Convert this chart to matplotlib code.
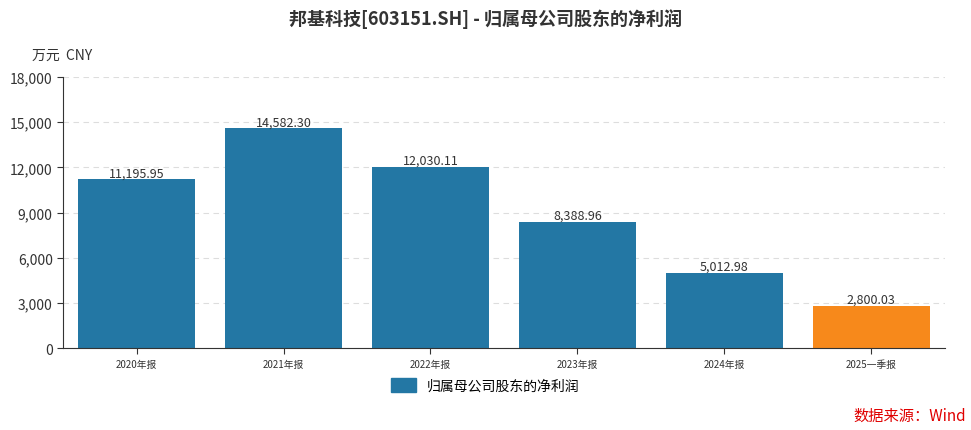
import matplotlib
matplotlib.use("Agg")
import matplotlib.pyplot as plt

plt.rcParams['font.family'] = ['Noto Sans CJK SC', 'DejaVu Sans']

categories = ["2020年报", "2021年报", "2022年报", "2023年报", "2024年报", "2025一季报"]
values = [11195.95, 14582.30, 12030.11, 8388.96, 5012.98, 2800.03]
colors = ["#2377a4"] * 5 + ["#f7891b"]
yticks = [0, 3000, 6000, 9000, 12000, 15000, 18000]

fig = plt.figure(figsize=(9.71, 4.31), dpi=100)
ax = fig.add_axes([0.065, 0.19, 0.908, 0.629])
x = range(len(categories))
bars = ax.bar(x, values, width=0.8, color=colors, zorder=2)
for xi, v in zip(x, values):
    ax.text(xi, v, f"{v:,.2f}", ha="center", va="bottom", fontsize=9, color="#333333")
ax.set_xlim(-0.5, len(categories) - 0.5)
ax.set_ylim(0, 18000)
ax.set_yticks(yticks)
ax.set_yticklabels([f"{t:,}" for t in yticks], fontsize=10, color="#333333")
ax.set_xticks(list(x))
ax.set_xticklabels(categories, fontsize=7, color="#333333")
ax.grid(axis="y", linestyle=(0, (5, 4)), color="#dddddd", zorder=0)
for s in ["top", "right"]:
    ax.spines[s].set_visible(False)
ax.spines["left"].set_color("#333333")
ax.spines["bottom"].set_color("#333333")
ax.tick_params(axis="both", length=4, color="#333333")

fig.text(0.5, 0.955, "邦基科技[603151.SH] - 归属母公司股东的净利润", ha="center", va="center",
         fontsize=13, fontweight="bold", color="#333333")
fig.text(0.033, 0.87, "万元  CNY", ha="left", va="center", fontsize=10, color="#333333")
fig.text(0.995, 0.035, "数据来源：Wind", ha="right", va="center", fontsize=11, color="#e00000")

handle = plt.Rectangle((0, 0), 1, 1, color="#2377a4")
fig.legend([handle], ["归属母公司股东的净利润"], loc="center", bbox_to_anchor=(0.5, 0.103),
           frameon=False, fontsize=10, handlelength=1.8, handleheight=1.1)

fig.savefig("out.png", dpi=100)
